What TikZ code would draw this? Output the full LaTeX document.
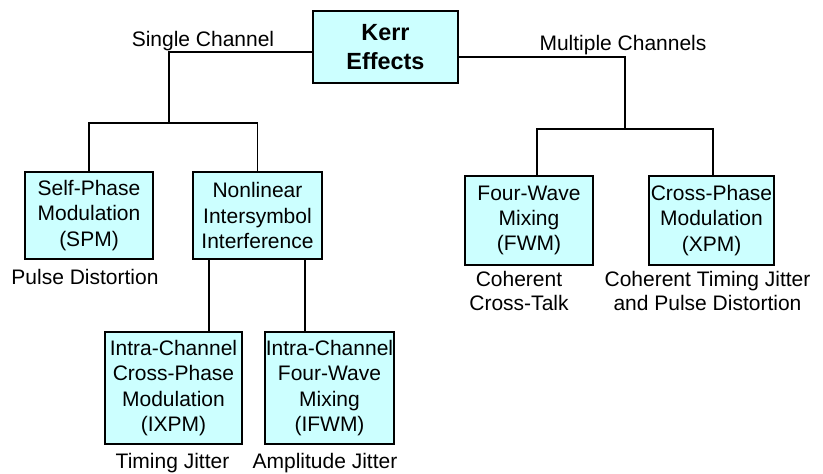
\documentclass[tikz,border=0pt]{standalone}
\usepackage{fontspec}
\setmainfont{Liberation Sans}
\definecolor{boxfill}{HTML}{CCFFFF}
\tikzset{
  effbox/.style={draw=black, line width=1.5pt, fill=boxfill, align=center, inner sep=0pt,
    font={\fontsize{21}{25.3}\selectfont}},
  lbl/.style={align=center, inner sep=0pt, font={\fontsize{21}{24}\selectfont}},
  conn/.style={draw=black, line width=1.5pt}
}
\begin{document}
\begin{tikzpicture}[x=1pt,y=-1pt]
\useasboundingbox (0,0) rectangle (823,474);
% boxes
\node[effbox, minimum width=145pt, minimum height=72pt, font={\fontsize{23.4}{29}\selectfont\bfseries}] (kerr) at (385.5,47) {Kerr\\Effects};
\node[effbox, minimum width=128pt, minimum height=87pt] (spm) at (89,215.5) {Self-Phase\\Modulation\\(SPM)};
\node[effbox, minimum width=129pt, minimum height=87pt] (nisi) at (257.5,215.5) {Nonlinear\\Intersymbol\\Interference};
\node[effbox, minimum width=137pt, minimum height=112pt] (ixpm) at (173.5,388) {Intra-Channel\\Cross-Phase\\Modulation\\(IXPM)};
\node[effbox, minimum width=129pt, minimum height=112pt] (ifwm) at (329.5,388) {Intra-Channel\\Four-Wave\\Mixing\\(IFWM)};
\node[effbox, minimum width=128pt, minimum height=89pt] (fwm) at (529,220.5) {Four-Wave\\Mixing\\(FWM)};
\node[effbox, minimum width=125pt, minimum height=89pt] (xpm) at (711.5,220.5) {Cross-Phase\\Modulation\\(XPM)};
% labels
\node[lbl] (lsc) at (203,41) {Single Channel};
\node[lbl] (lmc) at (623,45) {Multiple Channels};
\node[lbl] (lpd) at (85,277) {Pulse Distortion};
\node[lbl] (lct) at (519,291) {Coherent\\Cross-Talk};
\node[lbl] (ltj2) at (707.5,291) {Coherent Timing Jitter\\and Pulse Distortion};
\node[lbl] (ltj) at (172.5,463) {Timing Jitter};
\node[lbl] (laj) at (325,463) {Amplitude Jitter};
% junctions
\coordinate (jl) at (169,123);
\coordinate (jr) at (625,129);
\coordinate (xa) at (209,0);
\coordinate (xb) at (305,0);
\coordinate (xf) at (537,0);
\coordinate (xx) at (713,0);
% connectors
\draw[conn] ([yshift=-5pt]kerr.west) -| (jl);
\draw[conn] (spm.north) |- (jl) -| (nisi.north);
\draw[conn] (xa |- nisi.south) -- (xa |- ixpm.north);
\draw[conn] (xb |- nisi.south) -- (xb |- ifwm.north);
\draw[conn] ([yshift=-10pt]kerr.east) -| (jr);
\draw[conn] (xf |- fwm.north) |- (jr) -| (xx |- xpm.north);
\end{tikzpicture}
\end{document}
